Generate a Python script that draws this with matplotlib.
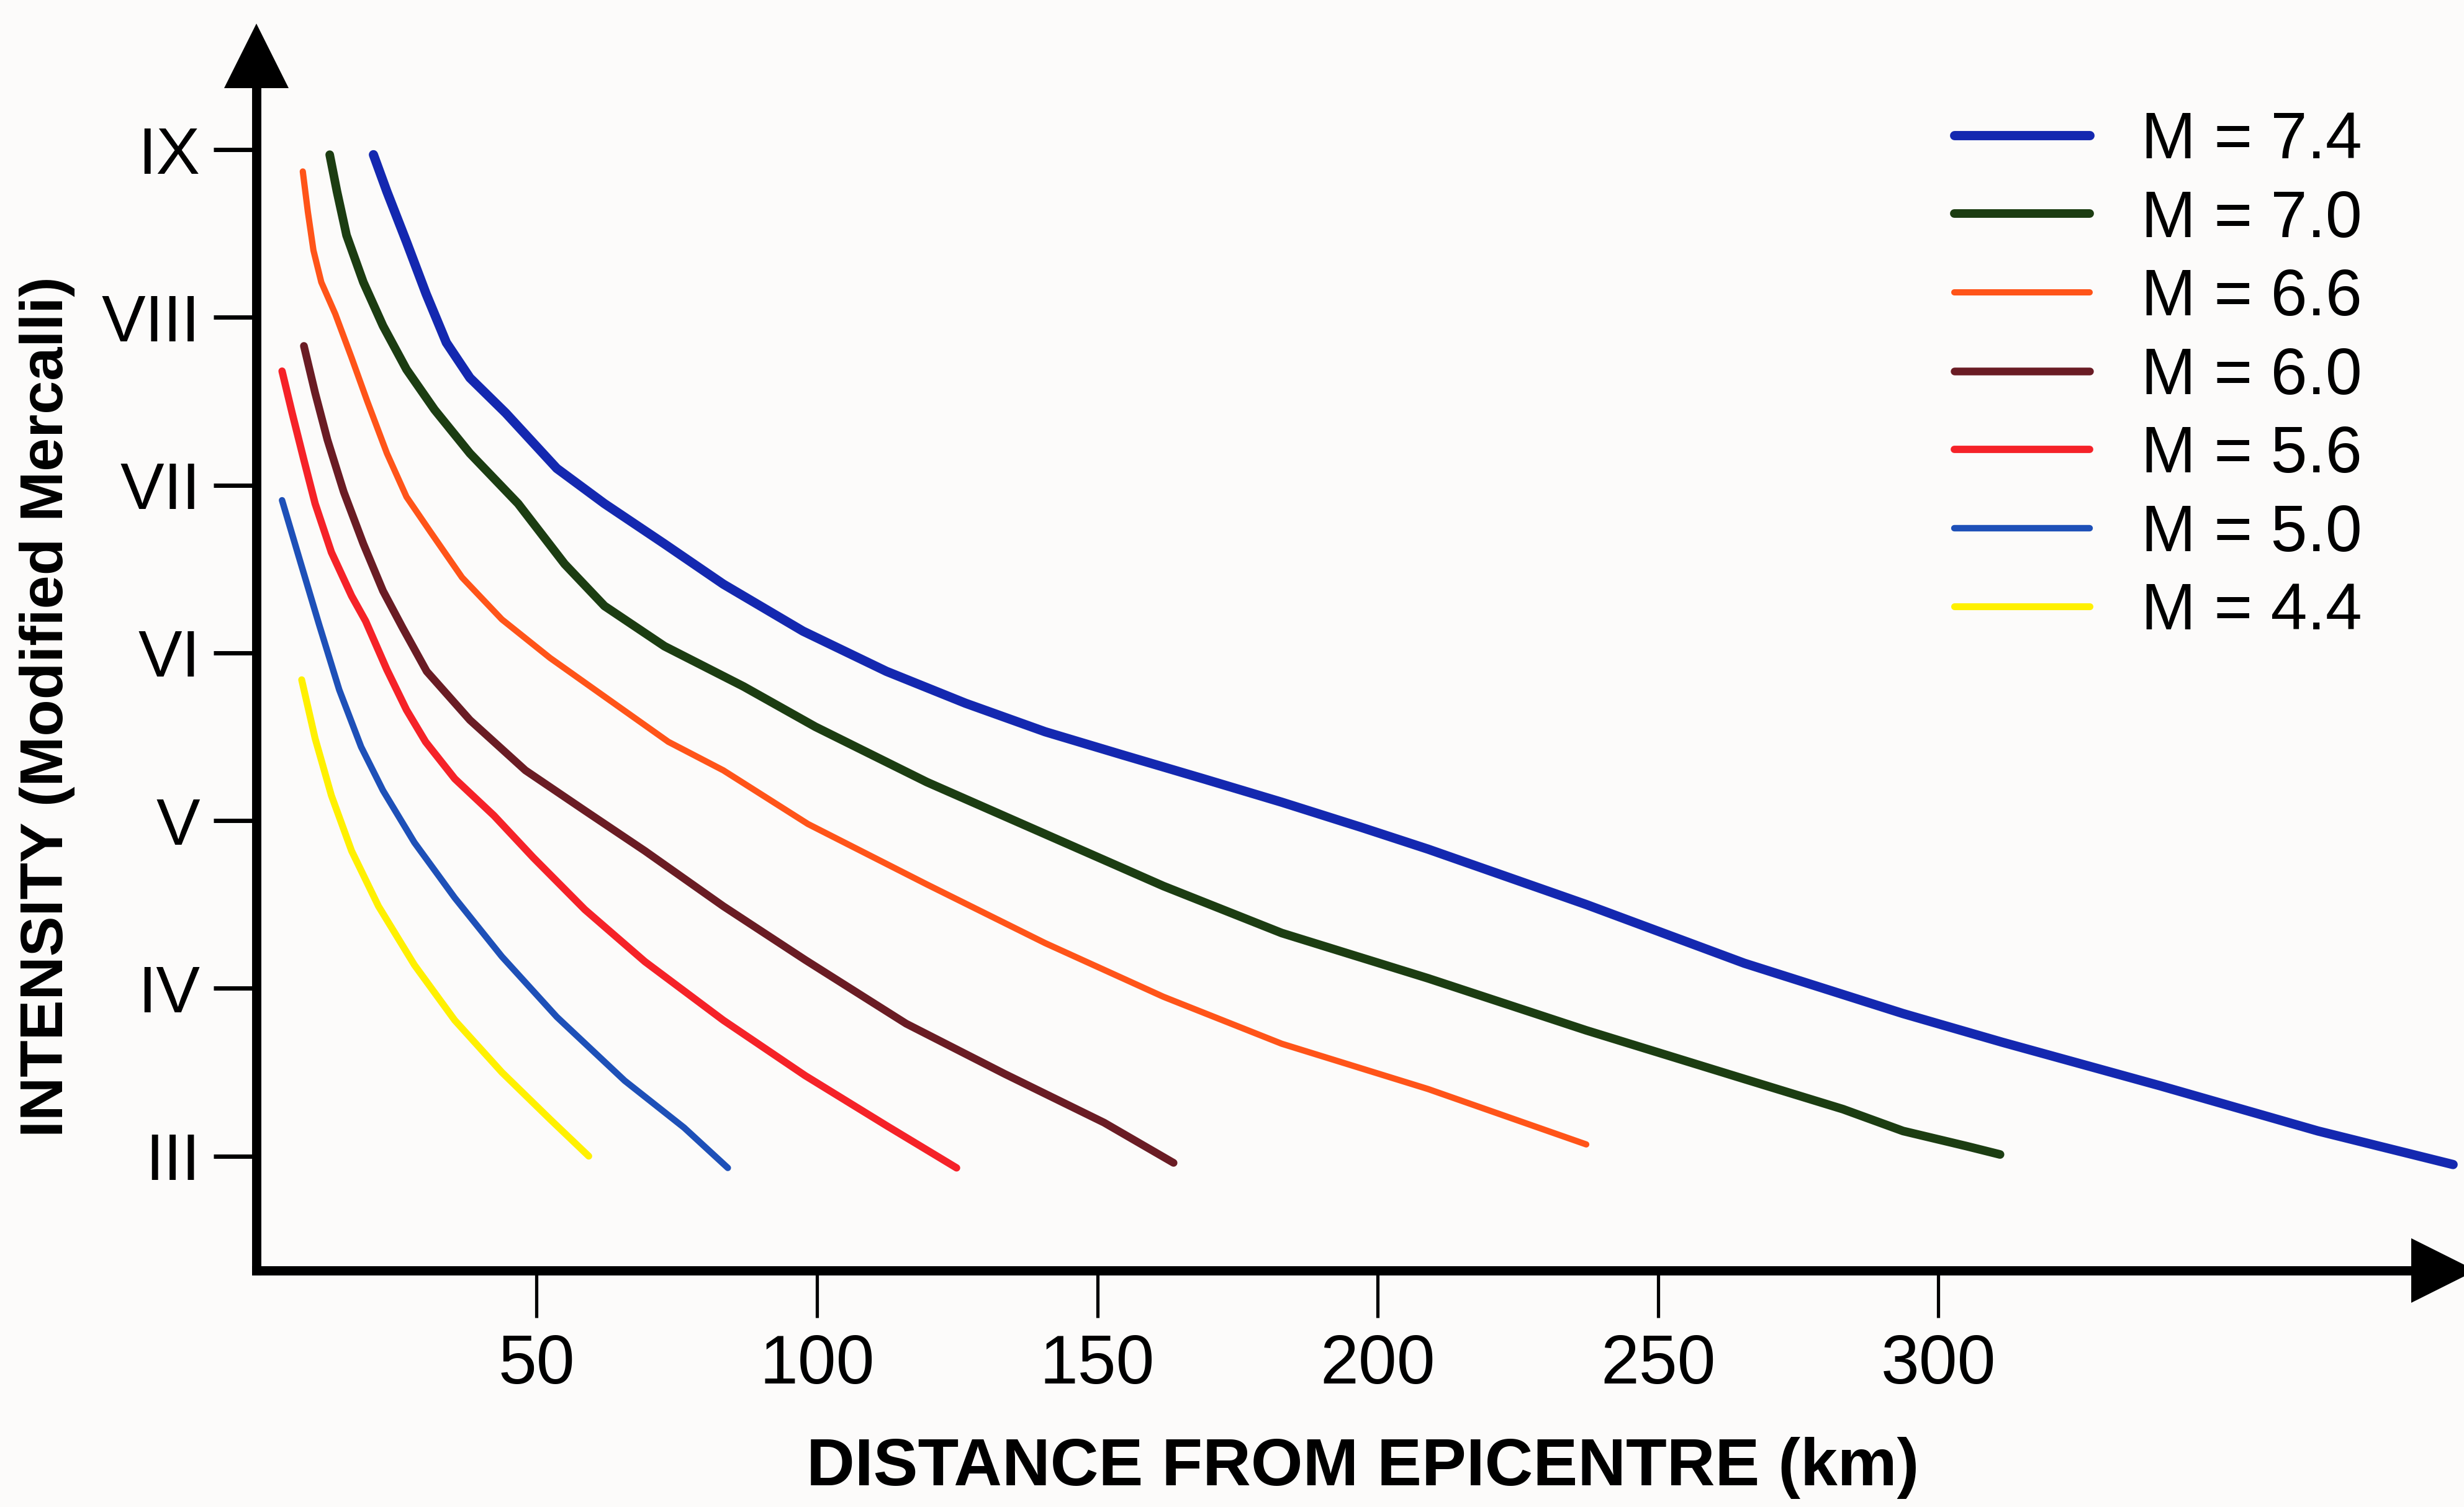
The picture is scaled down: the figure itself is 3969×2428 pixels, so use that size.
import numpy as np
from matplotlib import pyplot as plt

plt.rcParams['font.family'] = ['Liberation Sans', 'DejaVu Sans']

# distance from epicentre (km) and intensity (III=3 ... IX=9)
m74_x = [20.9, 23.3, 26.8, 30.3, 33.9, 38.1, 44.5, 53.6, 62.1, 72.8, 83.3, 97.5, 112.4, 126.5, 140.7,
         154.7, 168.9, 182.9, 197.1, 209, 237.2, 265.4, 293.7, 311.3, 339.5, 367.7, 391.8]
m74_y = [8.97, 8.75, 8.45, 8.14, 7.85, 7.64, 7.43, 7.10, 6.89, 6.65, 6.41, 6.13, 5.89, 5.70, 5.53,
         5.39, 5.25, 5.11, 4.96, 4.83, 4.50, 4.15, 3.85, 3.68, 3.42, 3.15, 2.95]

m70_x = [13.1, 14.4, 16.1, 19.1, 22.6, 26.8, 31.8, 38.1, 46.7, 55.0, 62.1, 72.8, 86.9, 99.7, 119.6,
         140.7, 161.8, 182.9, 209, 237.2, 265.4, 283, 293.7, 305, 311]
m70_y = [8.97, 8.75, 8.49, 8.21, 7.95, 7.69, 7.45, 7.19, 6.89, 6.53, 6.28, 6.04, 5.80, 5.56, 5.23,
         4.92, 4.61, 4.33, 4.06, 3.75, 3.46, 3.28, 3.15, 3.06, 3.01]

m66_x = [8.3, 9.2, 10.2, 11.6, 14.1, 17.0, 19.8, 23.3, 26.8, 31.1, 36.7, 43.8, 52.4, 62.1, 73.5,
         83.3, 98.4, 119.6, 140.7, 161.8, 182.9, 209, 237.2]
m66_y = [8.87, 8.63, 8.40, 8.21, 8.02, 7.76, 7.50, 7.19, 6.93, 6.72, 6.45, 6.20, 5.97, 5.74, 5.47,
         5.30, 4.98, 4.62, 4.27, 3.95, 3.67, 3.40, 3.07]

m60_x = [8.5, 10.5, 12.7, 15.6, 19.1, 22.6, 26.1, 30.4, 38.1, 48.0, 58.6, 69.3, 83.3, 97.9, 115.9,
         133.5, 151.2, 163.6]
m60_y = [7.83, 7.55, 7.27, 6.96, 6.65, 6.37, 6.15, 5.89, 5.60, 5.30, 5.06, 4.82, 4.49, 4.17, 3.79,
         3.49, 3.20, 2.96]

m56_x = [4.6, 6.4, 8.5, 10.5, 13.4, 17.0, 19.5, 23.3, 26.8, 30.2, 35.4, 42.4, 49.4, 58.6, 69.3,
         83.3, 97.9, 112.5, 124.9]
m56_y = [7.68, 7.43, 7.15, 6.89, 6.60, 6.34, 6.19, 5.90, 5.66, 5.47, 5.25, 5.03, 4.78, 4.47, 4.16,
         3.81, 3.48, 3.18, 2.93]

m50_x = [4.6, 7.8, 11.2, 14.8, 18.7, 22.6, 28.2, 35.4, 43.8, 53.6, 65.7, 76.3, 84.1]
m50_y = [6.91, 6.55, 6.17, 5.78, 5.44, 5.18, 4.87, 4.54, 4.19, 3.83, 3.45, 3.17, 2.93]

m44_x = [8.1, 10.5, 13.4, 17.0, 21.8, 28.2, 35.4, 43.8, 52.4, 59.3]
m44_y = [5.84, 5.49, 5.15, 4.82, 4.49, 4.14, 3.81, 3.50, 3.22, 3.00]

labels = ['M = 7.4', 'M = 7.0', 'M = 6.6', 'M = 6.0', 'M = 5.6', 'M = 5.0', 'M = 4.4']
colors = ['#1428b0', '#1c3d12', '#ff5419', '#6a1c24', '#f52228', '#1e50b8', '#fff000']
widths = [4.3, 4.0, 2.9, 3.6, 3.4, 3.0, 3.2]
series = [(m74_x, m74_y), (m70_x, m70_y), (m66_x, m66_y), (m60_x, m60_y),
          (m56_x, m56_y), (m50_x, m50_y), (m44_x, m44_y)]

x_ticks = [50, 100, 150, 200, 250, 300]
y_ticks = [3, 4, 5, 6, 7, 8, 9]
y_tick_labels = ['III', 'IV', 'V', 'VI', 'VII', 'VIII', 'IX']

bg = '#fcfbfa'
fig = plt.figure(figsize=(3969 / 250, 2428 / 250), dpi=250, facecolor=bg)
ax = fig.add_axes([0.104, 0.1569, 0.9917 - 0.104, 0.9629 - 0.1569])
ax.set_facecolor(bg)

for (xs, ys), lab, col, lw in zip(series, labels, colors, widths):
    ax.plot(xs, ys, color=col, linewidth=lw, label=lab, solid_capstyle='round', clip_on=False)

ax.set_xlim(0, 390.1)
ax.set_ylim(2.318, 9.559)

# axes as arrows
for side in ['top', 'right']:
    ax.spines[side].set_visible(False)
for side in ['left', 'bottom']:
    ax.spines[side].set_linewidth(4.3)
    ax.spines[side].set_capstyle('projecting')
ax.plot(0, 1, marker='^', color='k', ms=30, mew=0, transform=ax.transAxes, clip_on=False)
ax.plot(1, 0, marker='>', color='k', ms=30, mew=0, transform=ax.transAxes, clip_on=False)

ax.set_xticks(x_ticks)
ax.set_yticks(y_ticks)
ax.set_yticklabels(y_tick_labels)
ax.tick_params(axis='y', length=20, width=2, pad=6, labelsize=30.5)
ax.tick_params(axis='x', length=22, width=1.5, pad=7, labelsize=32)

ax.set_xlabel('DISTANCE FROM EPICENTRE (km)', fontsize=31, fontweight='bold', va='center')
ax.xaxis.set_label_coords(0.506, -0.1625)
ax.set_ylabel('INTENSITY (Modified Mercalli)', fontsize=28, fontweight='bold', va='center')
ax.yaxis.set_label_coords(-0.0956, 0.464)

ax.legend(loc='upper left', bbox_to_anchor=(3148 / 3969, 1 - 178 / 2428), bbox_transform=fig.transFigure,
          frameon=False, fontsize=30.5, handlelength=2.06, handletextpad=0.78, labelspacing=0.26,
          borderpad=0, borderaxespad=0)

plt.savefig('out.png', dpi=250, facecolor=bg)
